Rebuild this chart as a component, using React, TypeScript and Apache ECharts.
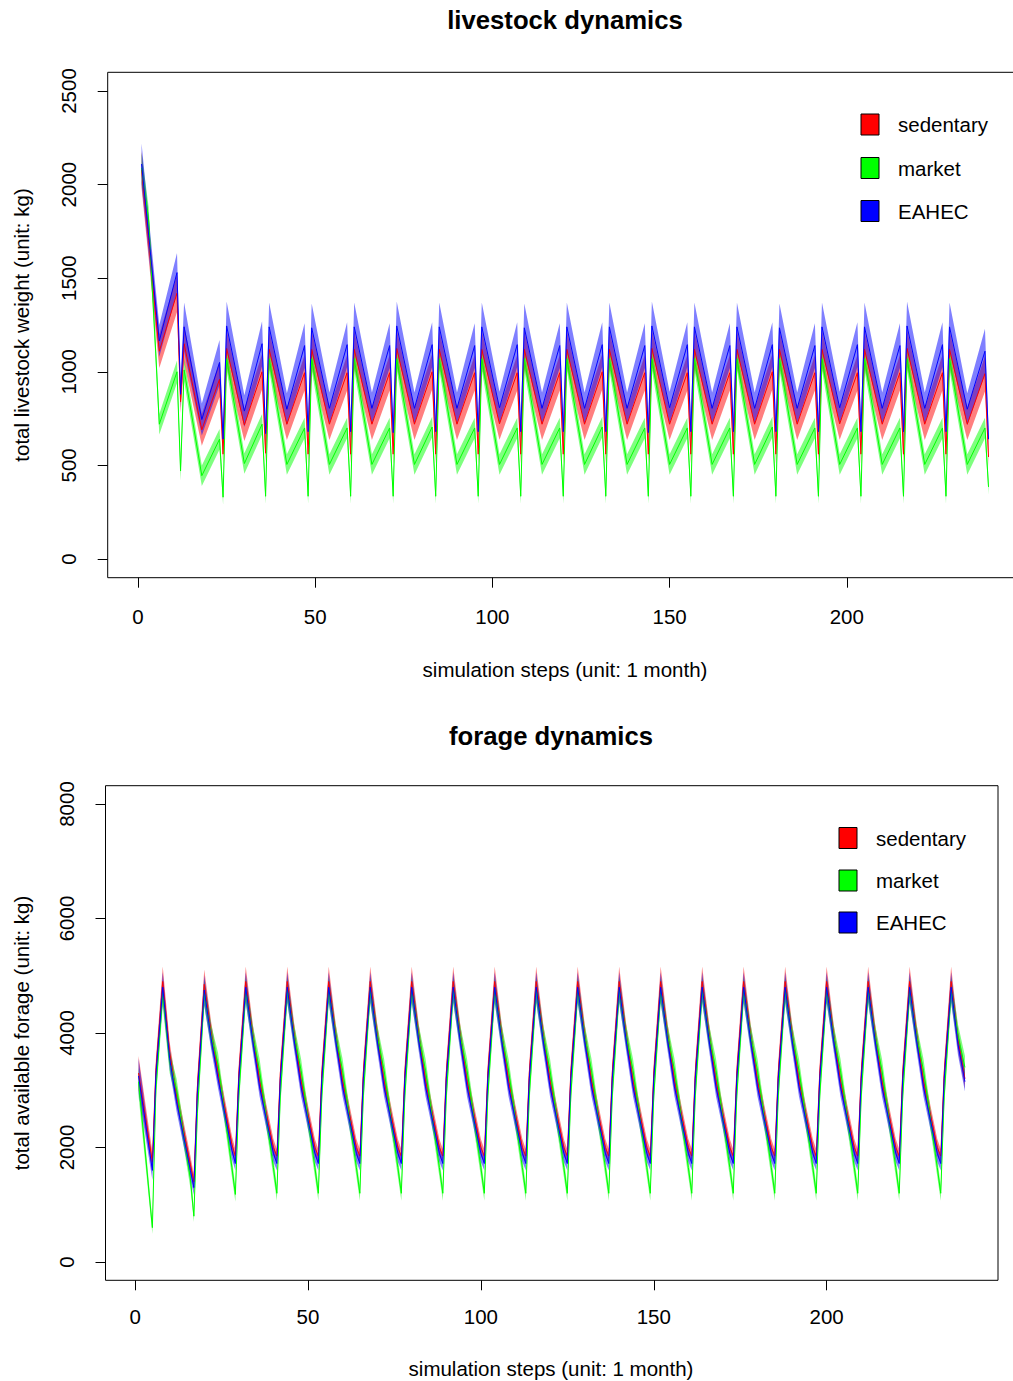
import React, { useEffect, useRef } from "react";
import * as echarts from "echarts";

// ---------- livestock panel (key vertices) ----------
const livestockSteps = [
  1, 3, 5, 6, 11, 12,
  13, 18, 23, 24, 25, 30, 35, 36, 37, 42, 47, 48, 49, 54, 59, 60,
  61, 66, 71, 72, 73, 78, 83, 84, 85, 90, 95, 96, 97, 102, 107, 108,
  109, 114, 119, 120, 121, 126, 131, 132, 133, 138, 143, 144, 145, 150, 155, 156,
  157, 162, 167, 168, 169, 174, 179, 180, 181, 186, 191, 192, 193, 198, 203, 204,
  205, 210, 215, 216, 217, 222, 227, 228, 229, 234, 239, 240,
];

const eahecLivestock = [
  2110, 1730, 1350, 1165, 1530, 880,
  1240, 745, 1050, 640, 1245, 790, 1150, 670, 1240, 800, 1140, 680, 1235, 805, 1145, 680,
  1240, 805, 1140, 675, 1245, 805, 1145, 680, 1240, 805, 1140, 680, 1240, 808, 1145, 680,
  1235, 805, 1140, 680, 1240, 805, 1145, 680, 1240, 805, 1140, 675, 1245, 808, 1145, 680,
  1240, 805, 1140, 680, 1240, 805, 1145, 680, 1235, 805, 1140, 680, 1240, 808, 1145, 680,
  1240, 805, 1140, 680, 1245, 805, 1145, 680, 1240, 800, 1110, 640,
];
const eahecLivestockSpread = [
  110, 100, 90, 85, 105, 70,
  130, 85, 120, 60, 130, 85, 120, 60, 130, 85, 120, 60, 130, 85, 120, 60,
  130, 85, 120, 60, 130, 85, 120, 60, 130, 85, 120, 60, 130, 85, 120, 60,
  130, 85, 120, 60, 130, 85, 120, 60, 130, 85, 120, 60, 130, 85, 120, 60,
  130, 85, 120, 60, 130, 85, 120, 60, 130, 85, 120, 60, 130, 85, 120, 60,
  130, 85, 120, 60, 130, 85, 120, 60, 130, 85, 120, 60,
];

const sedentaryLivestock = [
  2080, 1700, 1300, 1110, 1420, 840,
  1150, 690, 960, 560, 1125, 715, 1000, 565, 1120, 720, 995, 560, 1120, 720, 995, 560,
  1120, 720, 995, 560, 1125, 720, 1000, 560, 1120, 720, 995, 560, 1120, 722, 995, 560,
  1120, 720, 995, 560, 1120, 720, 1000, 560, 1120, 720, 995, 560, 1125, 720, 995, 560,
  1120, 720, 995, 560, 1120, 720, 1000, 560, 1120, 720, 995, 560, 1120, 722, 995, 560,
  1120, 720, 995, 560, 1125, 720, 995, 560, 1120, 720, 990, 545,
];
const sedentaryLivestockSpread = [
  100, 95, 90, 90, 100, 60,
  100, 85, 95, 50, 100, 85, 95, 50, 100, 85, 95, 50, 100, 85, 95, 50,
  100, 85, 95, 50, 100, 85, 95, 50, 100, 85, 95, 50, 100, 85, 95, 50,
  100, 85, 95, 50, 100, 85, 95, 50, 100, 85, 95, 50, 100, 85, 95, 50,
  100, 85, 95, 50, 100, 85, 95, 50, 100, 85, 95, 50, 100, 85, 95, 50,
  100, 85, 95, 50, 100, 85, 95, 50, 100, 85, 95, 50,
];

const marketLivestock = [
  2090, 1810, 1100, 720, 1000, 470,
  1010, 445, 640, 330, 1070, 510, 720, 335, 1070, 505, 700, 335, 1070, 505, 700, 335,
  1070, 505, 700, 335, 1070, 505, 705, 335, 1070, 505, 700, 335, 1070, 505, 700, 335,
  1070, 505, 700, 335, 1070, 505, 705, 335, 1070, 505, 700, 335, 1070, 505, 700, 335,
  1070, 505, 700, 335, 1070, 505, 705, 335, 1070, 505, 700, 335, 1070, 505, 700, 335,
  1070, 505, 700, 335, 1070, 505, 700, 335, 1070, 505, 700, 385,
];
const marketLivestockSpread = [
  80, 70, 60, 55, 60, 50,
  60, 55, 55, 40, 60, 55, 55, 40, 60, 55, 55, 40, 60, 55, 55, 40,
  60, 55, 55, 40, 60, 55, 55, 40, 60, 55, 55, 40, 60, 55, 55, 40,
  60, 55, 55, 40, 60, 55, 55, 40, 60, 55, 55, 40, 60, 55, 55, 40,
  60, 55, 55, 40, 60, 55, 55, 40, 60, 55, 55, 40, 60, 55, 55, 40,
  60, 55, 55, 40, 60, 55, 55, 40, 60, 55, 55, 40,
];

// ---------- forage panel (key vertices) ----------
const forageSteps = [
  1,
  5, 6, 8, 10, 12, 16, 17, 18, 20, 22, 24, 28, 29, 30, 32, 34, 36, 40,
  41, 42, 44, 46, 48, 52, 53, 54, 56, 58, 60, 64, 65, 66, 68, 70, 72, 76,
  77, 78, 80, 82, 84, 88, 89, 90, 92, 94, 96, 100, 101, 102, 104, 106, 108, 112,
  113, 114, 116, 118, 120, 124, 125, 126, 128, 130, 132, 136, 137, 138, 140, 142, 144, 148,
  149, 150, 152, 154, 156, 160, 161, 162, 164, 166, 168, 172, 173, 174, 176, 178, 180, 184,
  185, 186, 188, 190, 192, 196, 197, 198, 200, 202, 204, 208, 209, 210, 212, 214, 216, 220,
  221, 222, 224, 226, 228, 232, 233, 234, 236, 238, 240,
];

const eahecForage = [
  3250,
  1600, 3250, 4800, 3550, 2800, 1600, 1300, 2950, 4750, 3900, 3200, 1950, 1720, 3200, 4800, 3880, 3060, 1900,
  1720, 3200, 4800, 3880, 3060, 1900, 1720, 3200, 4800, 3880, 3060, 1900, 1720, 3200, 4800, 3880, 3060, 1900,
  1720, 3200, 4800, 3880, 3060, 1900, 1720, 3200, 4800, 3880, 3060, 1900, 1720, 3200, 4800, 3880, 3060, 1900,
  1720, 3200, 4800, 3880, 3060, 1900, 1720, 3200, 4800, 3880, 3060, 1900, 1720, 3200, 4800, 3880, 3060, 1900,
  1720, 3200, 4800, 3880, 3060, 1900, 1720, 3200, 4800, 3880, 3060, 1900, 1720, 3200, 4800, 3880, 3060, 1900,
  1720, 3200, 4800, 3880, 3060, 1900, 1720, 3200, 4800, 3880, 3060, 1900, 1720, 3200, 4800, 3880, 3060, 1900,
  1720, 3200, 4800, 3880, 3060, 1900, 1720, 3200, 4800, 3800, 3150,
];
const eahecForageSpread = [
  300,
  170, 180, 260, 190, 170, 150, 130, 180, 260, 190, 170, 150, 120, 180, 260, 190, 170, 150,
  120, 180, 260, 190, 170, 150, 120, 180, 260, 190, 170, 150, 120, 180, 260, 190, 170, 150,
  120, 180, 260, 190, 170, 150, 120, 180, 260, 190, 170, 150, 120, 180, 260, 190, 170, 150,
  120, 180, 260, 190, 170, 150, 120, 180, 260, 190, 170, 150, 120, 180, 260, 190, 170, 150,
  120, 180, 260, 190, 170, 150, 120, 180, 260, 190, 170, 150, 120, 180, 260, 190, 170, 150,
  120, 180, 260, 190, 170, 150, 120, 180, 260, 190, 170, 150, 120, 180, 260, 190, 170, 150,
  120, 180, 260, 190, 170, 150, 120, 180, 260, 190, 170,
];

const sedentaryForage = [
  3300,
  1750, 3350, 4900, 3650, 2900, 1700, 1400, 3050, 4850, 4000, 3300, 2050, 1850, 3300, 4900, 3980, 3160, 2000,
  1850, 3300, 4900, 3980, 3160, 2000, 1850, 3300, 4900, 3980, 3160, 2000, 1850, 3300, 4900, 3980, 3160, 2000,
  1850, 3300, 4900, 3980, 3160, 2000, 1850, 3300, 4900, 3980, 3160, 2000, 1850, 3300, 4900, 3980, 3160, 2000,
  1850, 3300, 4900, 3980, 3160, 2000, 1850, 3300, 4900, 3980, 3160, 2000, 1850, 3300, 4900, 3980, 3160, 2000,
  1850, 3300, 4900, 3980, 3160, 2000, 1850, 3300, 4900, 3980, 3160, 2000, 1850, 3300, 4900, 3980, 3160, 2000,
  1850, 3300, 4900, 3980, 3160, 2000, 1850, 3300, 4900, 3980, 3160, 2000, 1850, 3300, 4900, 3980, 3160, 2000,
  1850, 3300, 4900, 3980, 3160, 2000, 1850, 3300, 4900, 3880, 3200,
];
const sedentaryForageSpread = eahecForageSpread;

const marketForage = [
  3150,
  600, 3000, 4700, 3500, 3000, 1450, 800, 2600, 4700, 3950, 3450, 1650, 1180, 2900, 4750, 3950, 3350, 1650,
  1200, 2900, 4750, 3950, 3350, 1650, 1200, 2900, 4750, 3950, 3350, 1650, 1200, 2900, 4750, 3950, 3350, 1650,
  1200, 2900, 4750, 3950, 3350, 1650, 1200, 2900, 4750, 3950, 3350, 1650, 1200, 2900, 4750, 3950, 3350, 1650,
  1200, 2900, 4750, 3950, 3350, 1650, 1200, 2900, 4750, 3950, 3350, 1650, 1200, 2900, 4750, 3950, 3350, 1650,
  1200, 2900, 4750, 3950, 3350, 1650, 1200, 2900, 4750, 3950, 3350, 1650, 1200, 2900, 4750, 3950, 3350, 1650,
  1200, 2900, 4750, 3950, 3350, 1650, 1200, 2900, 4750, 3950, 3350, 1650, 1200, 2900, 4750, 3950, 3350, 1650,
  1200, 2900, 4750, 3950, 3350, 1650, 1200, 2900, 4750, 3950, 3400,
];
const marketForageSpread = [
  250,
  110, 180, 230, 200, 200, 160, 100, 180, 230, 200, 200, 160, 130, 180, 230, 200, 200, 160,
  130, 180, 230, 200, 200, 160, 130, 180, 230, 200, 200, 160, 130, 180, 230, 200, 200, 160,
  130, 180, 230, 200, 200, 160, 130, 180, 230, 200, 200, 160, 130, 180, 230, 200, 200, 160,
  130, 180, 230, 200, 200, 160, 130, 180, 230, 200, 200, 160, 130, 180, 230, 200, 200, 160,
  130, 180, 230, 200, 200, 160, 130, 180, 230, 200, 200, 160, 130, 180, 230, 200, 200, 160,
  130, 180, 230, 200, 200, 160, 130, 180, 230, 200, 200, 160, 130, 180, 230, 200, 200, 160,
  130, 180, 230, 200, 200, 160, 130, 180, 230, 200, 200,
];

const xTicks = [0, 50, 100, 150, 200];
const livestockTicks = [0, 500, 1000, 1500, 2000, 2500];
const forageTicks = [0, 2000, 4000, 6000, 8000];
const seriesNames = ["sedentary", "market", "EAHEC"];
const seriesColors = ["#FF0000", "#00FF00", "#0000FF"];
const bandColors = ["rgba(255,0,0,0.5)", "rgba(0,255,0,0.5)", "rgba(0,0,255,0.5)"];

const FONT = '"Liberation Sans", Arial, sans-serif';

function band(steps: number[], mean: number[], spread: number[], color: string, gi: number) {
  return {
    type: "custom",
    xAxisIndex: gi,
    yAxisIndex: gi,
    silent: true,
    data: [[steps[0], mean[0]]],
    renderItem: (_p: any, api: any) => {
      const pts: number[][] = [];
      for (let i = 0; i < steps.length; i++) pts.push(api.coord([steps[i], mean[i] + spread[i]]));
      for (let i = steps.length - 1; i >= 0; i--) pts.push(api.coord([steps[i], mean[i] - spread[i]]));
      return { type: "polygon", shape: { points: pts }, style: { fill: color, stroke: null } };
    },
  };
}

function line(steps: number[], mean: number[], name: string, color: string, gi: number) {
  return {
    type: "line",
    name,
    xAxisIndex: gi,
    yAxisIndex: gi,
    silent: true,
    symbol: "none",
    showSymbol: false,
    data: steps.map((s, i) => [s, mean[i]]),
    lineStyle: { width: 1, color },
    itemStyle: { color },
  };
}

const plain = (v: number) => String(v);

function xAxis(gi: number, margin: number) {
  return {
    gridIndex: gi,
    type: "value",
    position: "bottom",
    min: -8.56,
    max: 249.56,
    axisLine: { show: false, onZero: false },
    splitLine: { show: false },
    axisTick: { show: true, length: 10, inside: false, customValues: xTicks, lineStyle: { color: "#000", width: 1 } },
    axisLabel: { customValues: xTicks, fontSize: 20.5, color: "#000", margin, fontFamily: FONT, formatter: plain },
  };
}

function yAxis(gi: number, min: number, max: number, ticks: number[]) {
  return {
    gridIndex: gi,
    type: "value",
    position: "left",
    min,
    max,
    axisLine: { show: false, onZero: false },
    splitLine: { show: false },
    axisTick: { show: true, length: 10, inside: false, customValues: ticks, lineStyle: { color: "#000", width: 1 } },
    axisLabel: { customValues: ticks, fontSize: 20.5, color: "#000", margin: 29, rotate: 90, fontFamily: FONT, formatter: plain },
  };
}

function txt(text: string, x: number, y: number, size: number, bold = false, rotation = 0) {
  return {
    type: "text",
    x,
    y,
    rotation,
    silent: true,
    style: {
      text,
      fill: "#000",
      fontSize: size,
      fontWeight: bold ? "bold" : "normal",
      fontFamily: FONT,
      textAlign: "center",
      textVerticalAlign: "middle",
      align: "center",
      verticalAlign: "middle",
    },
  };
}

function legend(x: number, yCenters: number[]) {
  const els: any[] = [];
  seriesNames.forEach((n, i) => {
    els.push({
      type: "rect",
      silent: true,
      shape: { x, y: yCenters[i] - 10.5, width: 18, height: 21 },
      style: { fill: seriesColors[i], stroke: "#000", lineWidth: 1 },
    });
    els.push({
      type: "text",
      silent: true,
      x: x + 37,
      y: yCenters[i],
      style: {
        text: n,
        fill: "#000",
        fontSize: 20.5,
        fontFamily: FONT,
        textAlign: "left",
        textVerticalAlign: "middle",
        align: "left",
        verticalAlign: "middle",
      },
    });
  });
  return els;
}

export default function App() {
  const ref = useRef<HTMLDivElement>(null);
  useEffect(() => {
    if (!ref.current) return;
    const chart = echarts.init(ref.current, null, { renderer: "svg" });
    const option: any = {
      animation: false,
      backgroundColor: "#fff",
      grid: [
        { left: 107.7, top: 72.3, width: 914.7, height: 505.4, show: true, borderColor: "#000", borderWidth: 1, backgroundColor: "transparent", containLabel: false, outerBoundsMode: "none" },
        { left: 105.5, top: 785.7, width: 892.5, height: 494.6, show: true, borderColor: "#000", borderWidth: 1, backgroundColor: "transparent", containLabel: false, outerBoundsMode: "none" },
      ],
      xAxis: [xAxis(0, 28), xAxis(1, 26)],
      yAxis: [yAxis(0, -100, 2600, livestockTicks), yAxis(1, -320, 8320, forageTicks)],
      series: [
        band(livestockSteps, sedentaryLivestock, sedentaryLivestockSpread, bandColors[0], 0),
        line(livestockSteps, sedentaryLivestock, seriesNames[0], seriesColors[0], 0),
        band(livestockSteps, marketLivestock, marketLivestockSpread, bandColors[1], 0),
        line(livestockSteps, marketLivestock, seriesNames[1], seriesColors[1], 0),
        band(livestockSteps, eahecLivestock, eahecLivestockSpread, bandColors[2], 0),
        line(livestockSteps, eahecLivestock, seriesNames[2], seriesColors[2], 0),
        band(forageSteps, sedentaryForage, sedentaryForageSpread, bandColors[0], 1),
        line(forageSteps, sedentaryForage, seriesNames[0], seriesColors[0], 1),
        band(forageSteps, marketForage, marketForageSpread, bandColors[1], 1),
        line(forageSteps, marketForage, seriesNames[1], seriesColors[1], 1),
        band(forageSteps, eahecForage, eahecForageSpread, bandColors[2], 1),
        line(forageSteps, eahecForage, seriesNames[2], seriesColors[2], 1),
      ],
      graphic: [
        txt("livestock dynamics", 565, 20, 25.7, true),
        txt("forage dynamics", 551, 736, 25.7, true),
        txt("simulation steps (unit: 1 month)", 565, 669, 20.5),
        txt("simulation steps (unit: 1 month)", 551, 1368, 20.5),
        txt("total livestock weight (unit: kg)", 21, 325, 20.5, false, Math.PI / 2),
        txt("total available forage (unit: kg)", 21, 1033, 20.5, false, Math.PI / 2),
        ...legend(861, [124.5, 168, 211]),
        ...legend(839, [838, 880.5, 922.5]),
      ],
    };
    chart.setOption(option);
    return () => chart.dispose();
  }, []);
  return (
    <div style={{ position: "absolute", left: 0, top: 0, width: 1013, height: 1381, overflow: "hidden", background: "#fff" }}>
      <div ref={ref} style={{ width: 1030, height: 1381 }} />
    </div>
  );
}
